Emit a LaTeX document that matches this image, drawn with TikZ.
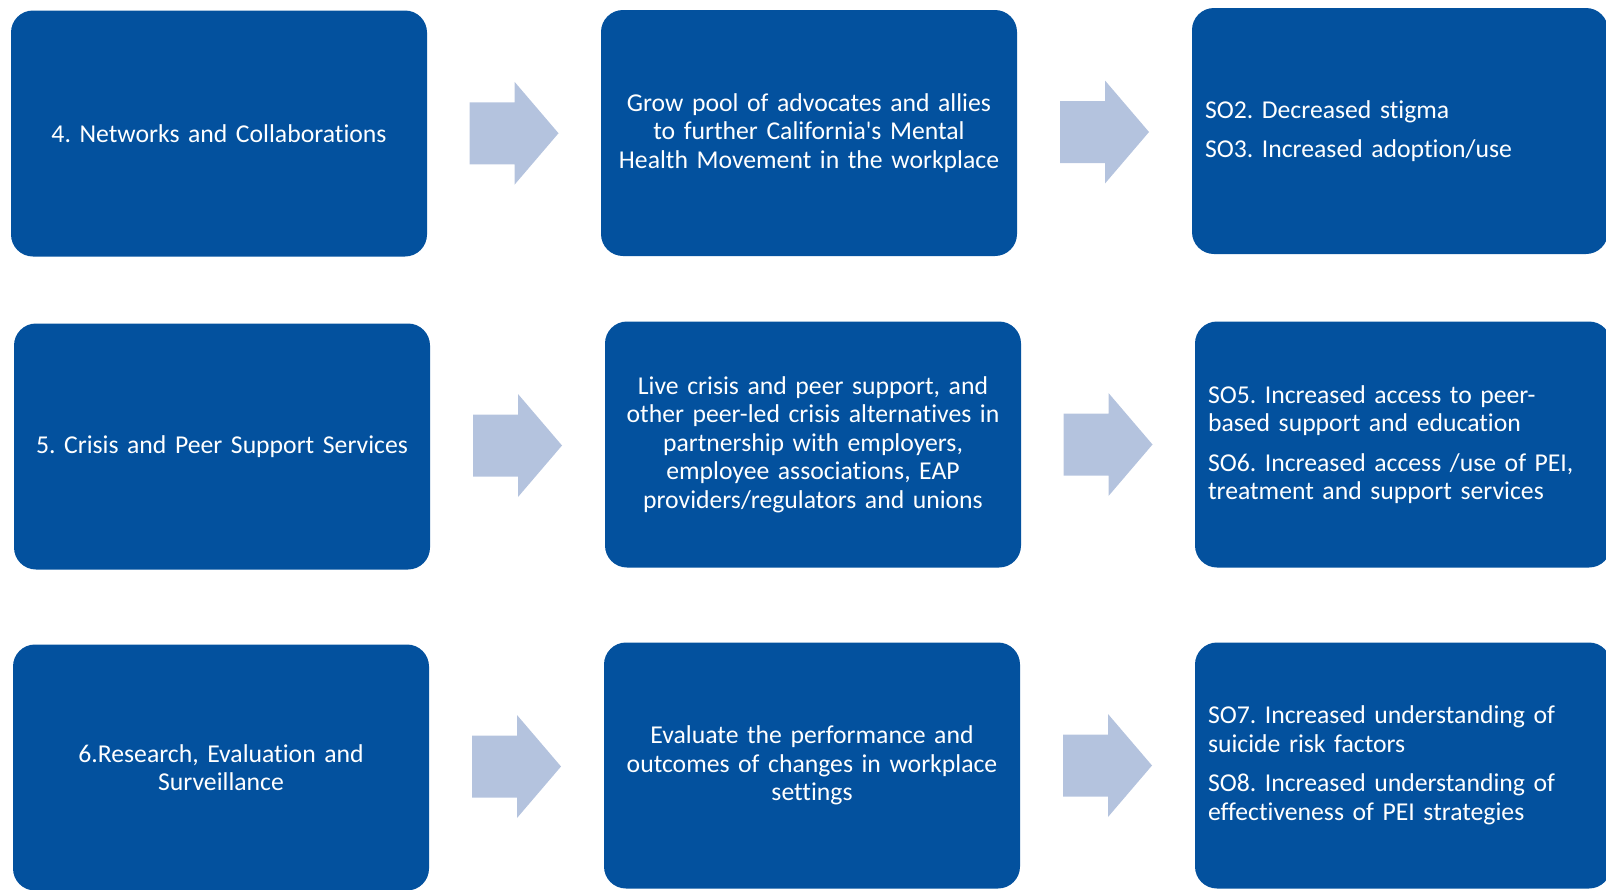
\documentclass[tikz,border=0pt]{standalone}
\usepackage{fontspec}
\setmainfont{Carlito}[Ligatures=NoCommon]
\usetikzlibrary{calc}
\definecolor{boxblue}{RGB}{3,81,158}
\definecolor{arrowblue}{RGB}{180,195,222}
\frenchspacing
\tikzset{
  box/.style={rectangle, rounded corners=22, fill=boxblue, draw=none,
    minimum width=416, minimum height=246, text width=390, inner xsep=13,
    inner ysep=0, text=white, font=\fontsize{25.7}{28.5}\selectfont},
  midbox/.style={box, align=center},
  outbox/.style={box, align=left},
  blockarrow/.style={fill=arrowblue, draw=none}
}
\newcommand\flowarrow[2]{%
  \fill[blockarrow] ($(#1.east)!0.5!(#2.west)$) ++(-44.5,-31) -- ++(45,0) -- ++(0,-20.5)
    -- ++(44,51.5) -- ++(-44,51.5) -- ++(0,-20.5) -- ++(-45,0) -- cycle;}
\begin{document}
\begin{tikzpicture}[x=1pt, y=-1pt]
\useasboundingbox (0,0) rectangle (1606,889);
\clip (0,0) rectangle (1606,889);
% row 1
\node[midbox] (n4) at (219,133.5) {4. Networks and Collaborations};
\node[midbox] (g4) at (809,133) {Grow pool of advocates and allies\\to further California\textquotesingle s Mental\\Health Movement in the workplace};
\node[outbox] (s4) at (1400,131) {SO2. Decreased stigma\\[11pt]SO3. Increased adoption/use};
% row 2
\node[midbox] (n5) at (222,446.5) {5. Crisis and Peer Support Services};
\node[midbox] (g5) at (813,444.5) {Live crisis and peer support, and\\other peer-led crisis alternatives in\\partnership with employers,\\employee associations, EAP\\providers/regulators and unions};
\node[outbox] (s5) at (1403,444.5) {SO5. Increased access to peer-\\based support and education\\[11pt]SO6. Increased access /use of PEI,\\treatment and support services};
% row 3
\node[midbox] (n6) at (221,767.5) {6.Research, Evaluation and\\Surveillance};
\node[midbox] (g6) at (812,765.5) {Evaluate the performance and\\outcomes of changes in workplace\\settings};
\node[outbox] (s6) at (1403,765.5) {SO7. Increased understanding of\\suicide risk factors\\[11pt]SO8. Increased understanding of\\effectiveness of PEI strategies};
% arrows
\flowarrow{n4}{g4}
\flowarrow{g4}{s4}
\flowarrow{n5}{g5}
\flowarrow{g5}{s5}
\flowarrow{n6}{g6}
\flowarrow{g6}{s6}
\end{tikzpicture}
\end{document}
